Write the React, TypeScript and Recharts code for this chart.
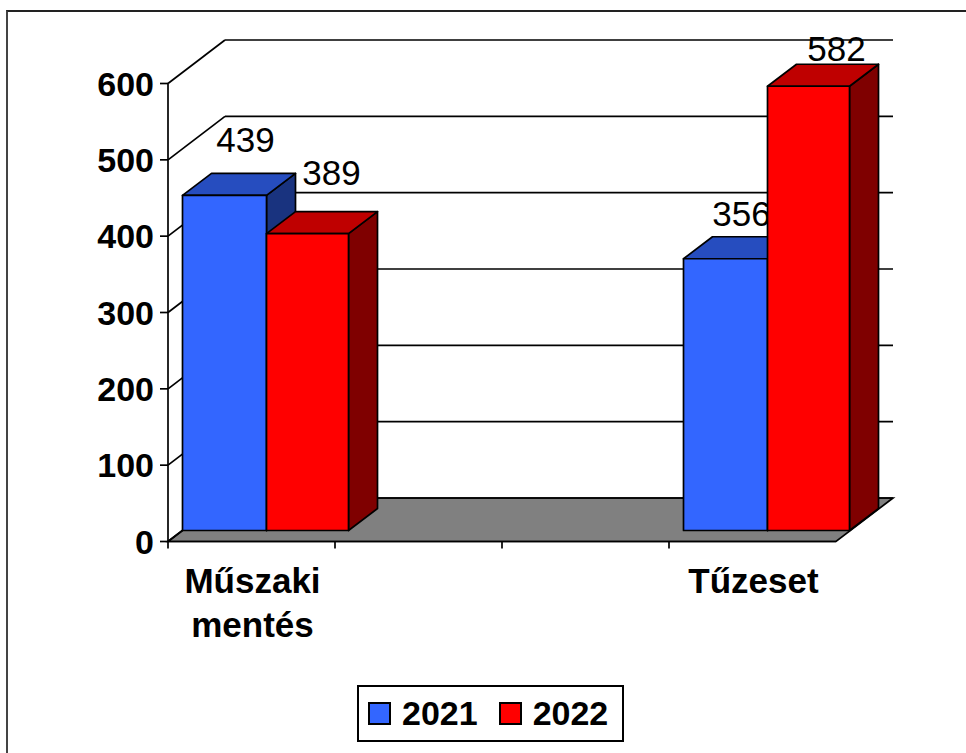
import React from 'react';
import { BarChart, Bar, XAxis, YAxis, CartesianGrid, Legend } from 'recharts';

const categories = ['Műszaki mentés', '', '', 'Tűzeset'];
const values2021: (number | null)[] = [439, null, null, 356];
const values2022: (number | null)[] = [389, null, null, 582];
const yTicks = [0, 100, 200, 300, 400, 500, 600];

const rows = categories.map((name, i) => ({ name, y2021: values2021[i], y2022: values2022[i] }));

const FONT = '"Liberation Sans", Arial, sans-serif';
const LINE = 1.7;
const DX = 57;
const DY = -43.5;
const BAR_DX = 29;
const BAR_DY = -22;
const FRONT_DX = 14.5;
const FRONT_DY = -11;

const labelNudge: Record<string, [number, number]> = {
  'y2021-0': [21, -56],
  'y2022-0': [24, -61],
  'y2021-3': [16, -45],
  'y2022-3': [28, -38],
};

const colors = {
  y2021: { front: '#3366FF', top: '#264DBF', side: '#19337F', trim: 0 },
  y2022: { front: '#FF0000', top: '#BF0000', side: '#7F0000', trim: 2 },
};

function Box3D(props: any) {
  const { x, y, width: w, height, payload, seriesKey } = props;
  const v = payload ? payload[seriesKey] : null;
  if (v == null || !height) return null;
  const c = (colors as any)[seriesKey];
  const width = w - c.trim;
  const l = x + FRONT_DX;
  const r = l + width;
  const t = y + FRONT_DY;
  const b = t + height;
  const nudge = labelNudge[`${seriesKey}-${categories.indexOf(payload.name)}`] || [0, -30];
  const pts = (a: number[][]) => a.map((p) => p.join(',')).join(' ');
  return (
    <g stroke="#000" strokeWidth={LINE} strokeLinejoin="round">
      <polygon fill={c.side} points={pts([[r, t], [r + BAR_DX, t + BAR_DY], [r + BAR_DX, b + BAR_DY], [r, b]])} />
      <polygon fill={c.top} points={pts([[l, t], [l + BAR_DX, t + BAR_DY], [r + BAR_DX, t + BAR_DY], [r, t]])} />
      <rect x={l} y={t} width={width} height={height} fill={c.front} />
      <text
        x={l + width / 2 + nudge[0]}
        y={t + nudge[1]}
        textAnchor="middle"
        dominantBaseline="central"
        fontFamily={FONT}
        fontSize={35}
        fill="#000"
        stroke="none"
      >
        {v}
      </text>
    </g>
  );
}

function WallLine(props: any) {
  const { x1, x2, y1, index } = props;
  const isFloor = Math.abs(y1 - 541.5) < 1;
  const bx1 = x1 + DX;
  const bx2 = x2 + DX;
  const by = y1 + DY;
  return (
    <g key={`wall-${index}`} stroke="#000" strokeWidth={LINE} fill="none">
      {isFloor && (
        <polygon points={`${x1},${y1} ${x2},${y1} ${bx2},${by} ${bx1},${by}`} fill="#808080" />
      )}
      <line x1={x1} y1={y1} x2={bx1} y2={by} />
      <line x1={bx1} y1={by} x2={bx2} y2={by} />
    </g>
  );
}

function XTick(props: any) {
  const { x, y, payload } = props;
  const half = 83.5;
  const axisY = y - 8;
  const words = String(payload.value).split(' ').filter(Boolean);
  return (
    <g>
      <line x1={x - half} y1={axisY} x2={x - half} y2={axisY + 7} stroke="#000" strokeWidth={LINE} />
      <text x={x + 1} textAnchor="middle" fontFamily={FONT} fontSize={35} fontWeight="bold" fill="#000">
        {words.map((w, i) => (
          <tspan key={w} x={x + 1} y={axisY + 51 + i * 44}>
            {w}
          </tspan>
        ))}
      </text>
    </g>
  );
}

function LegendBox(props: any) {
  const items = props.payload || [];
  return (
    <div
      style={{
        boxSizing: 'border-box',
        width: 267,
        height: 57,
        border: '2px solid #000',
        background: '#fff',
        display: 'flex',
        alignItems: 'center',
        paddingLeft: 9,
        fontFamily: FONT,
        fontWeight: 'bold',
        fontSize: 34,
        color: '#000',
      }}
    >
      {items.map((it: any, i: number) => (
        <span key={i} style={{ display: 'inline-flex', alignItems: 'center', marginRight: 21 }}>
          <span
            style={{
              display: 'inline-block',
              boxSizing: 'border-box',
              width: 23,
              height: 23,
              background: it.color,
              border: '2px solid #000',
              marginRight: 11,
            }}
          />
          {it.value}
        </span>
      ))}
    </div>
  );
}

export default function App() {
  return (
    <div style={{ position: 'absolute', left: 0, top: 0, width: 966, height: 753, background: '#fff', overflow: 'hidden' }}>
      <div
        style={{
          position: 'absolute',
          left: 6,
          top: 10,
          width: 980,
          height: 760,
          borderTop: '2px solid #222',
          borderLeft: '2px solid #444',
          boxSizing: 'border-box',
        }}
      />
      <BarChart
        width={966}
        height={753}
        data={rows}
        barGap={0}
        barCategoryGap={0}
        margin={{ top: 83.5, right: 130, bottom: 171.5, left: 0 }}
        style={{ position: 'absolute', left: 0, top: 0 }}
      >
        <CartesianGrid vertical={false} horizontal={(p: any) => <WallLine {...p} />} />
        <XAxis
          dataKey="name"
          height={40}
          interval={0}
          tickLine={false}
          tick={(p: any) => <XTick {...p} />}
          axisLine={{ stroke: '#000', strokeWidth: LINE }}
          padding={{ left: 0, right: 0 }}
        />
        <YAxis
          width={168}
          domain={[0, 600]}
          ticks={yTicks}
          interval={0}
          tickSize={8}
          tickMargin={6}
          axisLine={{ stroke: '#000', strokeWidth: LINE }}
          tickLine={{ stroke: '#000', strokeWidth: LINE }}
          tick={{ fontFamily: FONT, fontSize: 34, fontWeight: 'bold', fill: '#000' }}
        />
        <Legend
          layout="horizontal"
          verticalAlign="middle"
          align="center"
          content={(p: any) => <LegendBox {...p} />}
          wrapperStyle={{ position: 'absolute', left: 357, top: 685, width: 267, height: 57 }}
        />
        <Bar
          dataKey="y2021"
          name="2021"
          fill="#3366FF"
          isAnimationActive={false}
          shape={(p: any) => <Box3D {...p} seriesKey="y2021" />}
        />
        <Bar
          dataKey="y2022"
          name="2022"
          fill="#FF0000"
          isAnimationActive={false}
          shape={(p: any) => <Box3D {...p} seriesKey="y2022" />}
        />
      </BarChart>
    </div>
  );
}
